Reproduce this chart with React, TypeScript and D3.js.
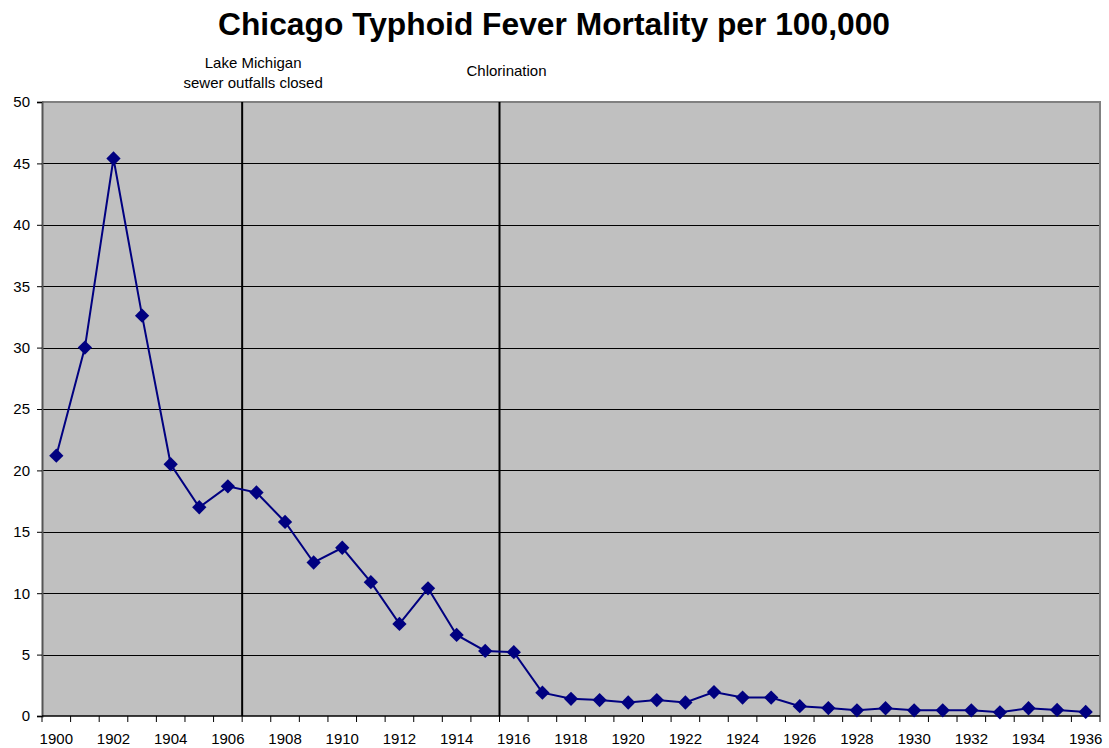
import React, { useEffect, useRef } from 'react'
import * as d3 from 'd3'

const years = d3.range(1900, 1937)
const rates = [
  21.2, 30.0, 45.4, 32.6, 20.5, 17.0, 18.7, 18.2, 15.8, 12.5,
  13.7, 10.9, 7.5, 10.4, 6.6, 5.3, 5.2, 1.9, 1.4, 1.3,
  1.1, 1.3, 1.1, 1.95, 1.5, 1.5, 0.8, 0.65, 0.46, 0.63,
  0.46, 0.46, 0.46, 0.3, 0.63, 0.49, 0.33,
]
const yTicks = [0, 5, 10, 15, 20, 25, 30, 35, 40, 45, 50]
// events drawn after the given year's category
const events = [
  { after: 1906, dx: 11, lines: ['Lake Michigan', 'sewer outfalls closed'] },
  { after: 1915, dx: 7, lines: ['Chlorination'] },
]

export default function App() {
  const ref = useRef<SVGSVGElement | null>(null)

  useEffect(() => {
    if (!ref.current) return
    const svg = d3.select(ref.current)
    svg.selectAll('*').remove()

    const width = 1109, height = 748
    const left = 42, right = 1100, top = 102, bottom = 716
    const font = 'Liberation Sans, Arial, sans-serif'

    const x = d3.scaleBand<number>().domain(years).range([left, right]).padding(0)
    const cx = (yr: number) => x(yr)! + x.bandwidth() / 2
    const y = d3.scaleLinear().domain([0, 50]).range([bottom, top])

    svg.attr('viewBox', `0 0 ${width} ${height}`)

    svg.append('rect').attr('x', left).attr('y', top).attr('width', right - left).attr('height', bottom - top)
      .attr('fill', '#c0c0c0')

    // gridlines
    svg.append('g').selectAll('line').data(yTicks.filter(t => t > 0 && t < 50)).enter().append('line')
      .attr('x1', left).attr('x2', right).attr('y1', d => Math.round(y(d)) + 0.5).attr('y2', d => Math.round(y(d)) + 0.5)
      .attr('stroke', '#000').attr('stroke-width', 1)

    // top and right frame
    svg.append('path').attr('d', `M${left},${top}H${right}V${bottom}`).attr('fill', 'none')
      .attr('stroke', '#808080').attr('stroke-width', 2)

    // event lines
    svg.append('g').selectAll('line').data(events).enter().append('line')
      .attr('x1', d => x(d.after)! + x.bandwidth()).attr('x2', d => x(d.after)! + x.bandwidth())
      .attr('y1', top).attr('y2', bottom).attr('stroke', '#000').attr('stroke-width', 2)

    events.forEach(ev => {
      const tx = x(ev.after)! + x.bandwidth() + ev.dx
      const t = svg.append('text').attr('x', tx)
        .attr('y', ev.lines.length > 1 ? 68 : 76)
        .attr('text-anchor', 'middle').attr('font-family', font).attr('font-size', 15).attr('fill', '#000')
      ev.lines.forEach((l, i) => t.append('tspan').attr('x', tx).attr('dy', i === 0 ? 0 : 20).text(l))
    })

    // left axis
    const yAxis = svg.append('g').attr('transform', `translate(${left},0)`)
      .call(d3.axisLeft(y).tickValues(yTicks).tickSize(5).tickPadding(7))
    yAxis.select('.domain').attr('stroke', '#555').attr('stroke-width', 2)
    yAxis.selectAll('.tick line').attr('stroke', '#000')
    yAxis.selectAll('text').attr('font-family', font).attr('font-size', 15).attr('fill', '#000')

    // bottom axis: ticks at category boundaries, labels every other year
    const xAxis = svg.append('g').attr('transform', `translate(0,${bottom})`)
    xAxis.append('line').attr('x1', left).attr('x2', right).attr('y1', 0).attr('y2', 0).attr('stroke', '#000').attr('stroke-width', 1.5)
    xAxis.selectAll('line.tk').data([...years.map(yr => x(yr)!), right]).enter().append('line').attr('class', 'tk')
      .attr('x1', d => d).attr('x2', d => d).attr('y1', 0).attr('y2', 6).attr('stroke', '#000')
    xAxis.selectAll('text').data(years.filter((_, i) => i % 2 === 0)).enter().append('text')
      .attr('x', d => cx(d)).attr('y', 28).attr('text-anchor', 'middle')
      .attr('font-family', font).attr('font-size', 15).attr('fill', '#000').text(d => String(d))

    // series
    const line = d3.line<number>().x((_, i) => cx(years[i])).y(d => y(d))
    svg.append('path').datum(rates).attr('d', line).attr('fill', 'none').attr('stroke', '#000080').attr('stroke-width', 2)

    const sym = d3.symbol().type(d3.symbolDiamond2).size(130)
    svg.append('g').selectAll('path').data(rates).enter().append('path')
      .attr('d', sym()!).attr('transform', (d, i) => `translate(${cx(years[i])},${y(d)})`)
      .attr('fill', '#000080')

    svg.append('text').attr('x', 554).attr('y', 35).attr('text-anchor', 'middle')
      .attr('font-family', font).attr('font-weight', 'bold').attr('font-size', 31).attr('fill', '#000')
      .attr('textLength', 672).attr('lengthAdjust', 'spacingAndGlyphs')
      .text('Chicago Typhoid Fever Mortality per 100,000')
  }, [])

  return <svg ref={ref} width={1109} height={748} style={{ position: 'absolute', left: 0, top: 0 }} />
}
